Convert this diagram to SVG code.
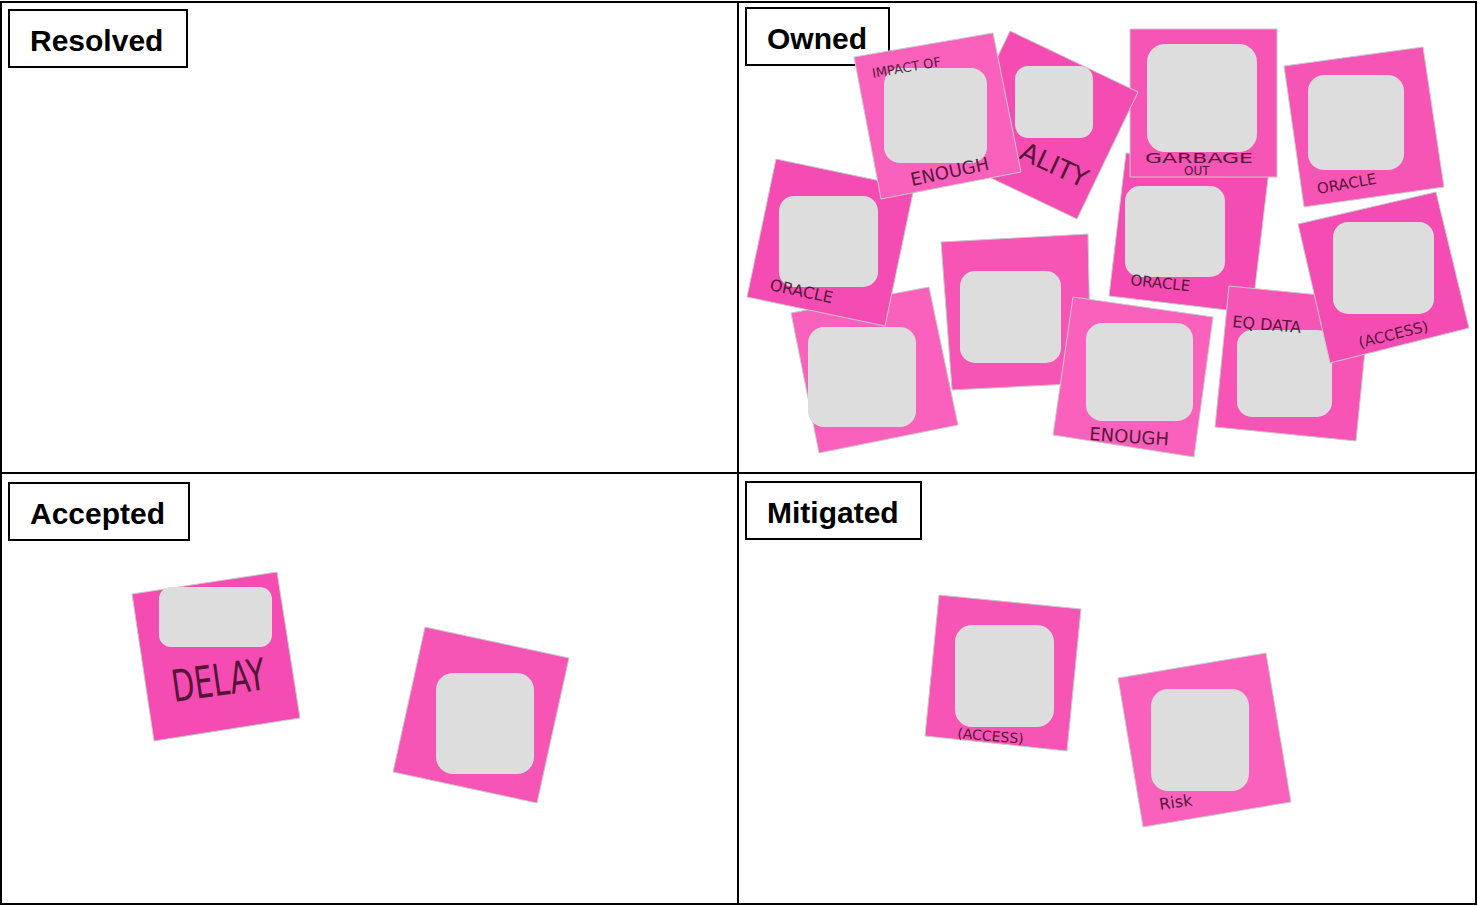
<svg xmlns="http://www.w3.org/2000/svg" width="1478" height="906" viewBox="0 0 1478 906">
<style>
.frame{fill:none;stroke:#000;stroke-width:2}
.lbl{fill:#fff;stroke:#000;stroke-width:2}
.lt{font-family:"Liberation Sans",Arial,sans-serif;font-weight:bold;font-size:30px;fill:#000}
.note{fill:#f655b6;stroke:#c9c9c9;stroke-width:1}
.n2{fill:#f961bd}
.n3{fill:#f44cb2}
.cover{fill:#dddddd}
.hw{font-family:"DejaVu Sans","Liberation Sans",sans-serif;fill:#3a0c22;opacity:0.85}
</style>
<rect width="1478" height="906" fill="#fff"/>

<g id="grid">
<rect class="frame" x="1" y="2" width="1475" height="902"/>
<line class="frame" x1="738" y1="2" x2="738" y2="904"/>
<line class="frame" x1="1" y1="473" x2="1476" y2="473"/>
</g>

<g id="resolved">
<rect class="lbl" x="9" y="10" width="178" height="57"/>
<text class="lt" x="30" y="51">Resolved</text>
</g>

<g id="owned">
<rect class="lbl" x="746" y="8" width="143" height="57"/>
<text class="lt" x="767" y="49">Owned</text>
</g>

<g id="accepted">
<rect class="lbl" x="9" y="483" width="180" height="57"/>
<text class="lt" x="30" y="524">Accepted</text>
</g>

<g id="mitigated">
<rect class="lbl" x="746" y="482" width="175" height="57"/>
<text class="lt" x="767" y="523">Mitigated</text>
</g>

<!-- Owned notes -->
<g id="note-g">
<polygon class="note" points="941,242 1088,234 1091,383 952,390"/>
<rect class="cover" x="960" y="271" width="101" height="92" rx="15"/>
</g>
<g id="note-f">
<polygon class="note n2" points="791,313 929,287 958,425 819,453"/>
<rect class="cover" x="808" y="327" width="108" height="100" rx="16"/>
</g>
<g id="note-e">
<polygon class="note n3" points="776,159 914,188 885,326 747,297"/>
<rect class="cover" x="779" y="196" width="99" height="91" rx="15"/>
<text class="hw" font-size="16" transform="translate(769,290) rotate(12)">ORACLE</text>
</g>
<g id="note-h">
<polygon class="note n3" points="1126,153 1269,170 1252,313 1109,296"/>
<rect class="cover" x="1125" y="186" width="100" height="91" rx="15"/>
<text class="hw" font-size="15" transform="translate(1130,285) rotate(6)">ORACLE</text>
</g>
<g id="note-c">
<polygon class="note" points="1130,29 1277,29 1277,177 1130,177"/>
<rect class="cover" x="1147" y="44" width="110" height="108" rx="18"/>
<text class="hw" font-size="14" x="1145" y="163" textLength="108" lengthAdjust="spacingAndGlyphs">GARBAGE</text>
<text class="hw" font-size="12" x="1184" y="175">OUT</text>
</g>
<g id="note-b">
<polygon class="note n3" points="1010,31 1138,92 1077,219 949,158"/>
<rect class="cover" x="1015" y="66" width="78" height="72" rx="13"/>
<text class="hw" font-size="26" transform="translate(1018,158) rotate(25)">ALITY</text>
</g>
<g id="note-a">
<polygon class="note n2" points="854,57 993,33 1021,172 881,199"/>
<rect class="cover" x="884" y="68" width="103" height="95" rx="16"/>
<text class="hw" font-size="13" transform="translate(873,78) rotate(-10)">IMPACT OF</text>
<text class="hw" font-size="18" transform="translate(912,186) rotate(-12)">ENOUGH</text>
</g>
<g id="note-k">
<polygon class="note n2" points="1073,297 1213,317 1194,457 1053,435"/>
<rect class="cover" x="1086" y="323" width="107" height="98" rx="16"/>
<text class="hw" font-size="18" transform="translate(1089,440) rotate(4)">ENOUGH</text>
</g>
<g id="note-j">
<polygon class="note" points="1229,286 1370,300 1356,441 1215,427"/>
<rect class="cover" x="1237" y="330" width="95" height="87" rx="15"/>
<text class="hw" font-size="16" transform="translate(1232,327) rotate(5)">EQ DATA</text>
</g>
<g id="note-d">
<polygon class="note" points="1284,66 1423,47 1444,187 1304,207"/>
<rect class="cover" x="1308" y="75" width="96" height="95" rx="16"/>
<text class="hw" font-size="15" transform="translate(1318,194) rotate(-10)">ORACLE</text>
</g>
<g id="note-i">
<polygon class="note n3" points="1298,224 1436,192 1469,328 1330,363"/>
<rect class="cover" x="1333" y="222" width="101" height="92" rx="15"/>
<text class="hw" font-size="15" transform="translate(1360,348) rotate(-14)">(ACCESS)</text>
</g>

<!-- Accepted notes -->
<g id="note-l">
<polygon class="note n3" points="132,594 277,572 300,718 154,741"/>
<rect class="cover" x="159" y="587" width="113" height="60" rx="12"/>
<text class="hw" font-size="44" transform="translate(174,702) rotate(-8)" textLength="94" lengthAdjust="spacingAndGlyphs">DELAY</text>
</g>
<g id="note-m">
<polygon class="note" points="425,627 569,658 537,803 393,772"/>
<rect class="cover" x="436" y="673" width="98" height="101" rx="17"/>
</g>

<!-- Mitigated notes -->
<g id="note-n">
<polygon class="note" points="939,595 1081,609 1067,751 925,736"/>
<rect class="cover" x="955" y="625" width="99" height="102" rx="17"/>
<text class="hw" font-size="14" transform="translate(957,738) rotate(5)">(ACCESS)</text>
</g>
<g id="note-o">
<polygon class="note n2" points="1118,678 1266,653 1291,802 1143,827"/>
<rect class="cover" x="1151" y="689" width="98" height="102" rx="17"/>
<text class="hw" font-size="16" transform="translate(1160,810) rotate(-8)">Risk</text>
</g>

<g id="connectors"></g>
</svg>
